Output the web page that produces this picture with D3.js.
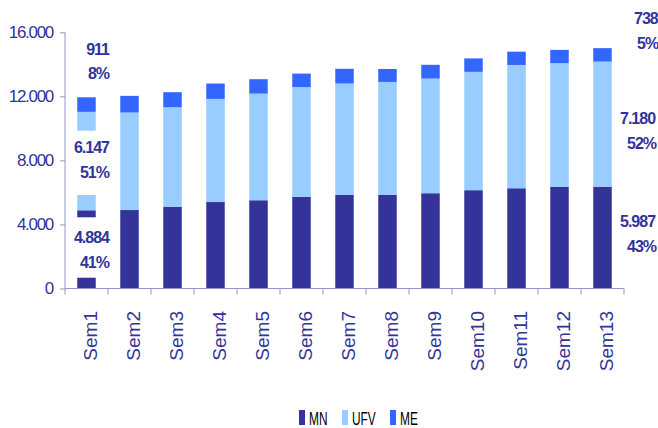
<!DOCTYPE html>
<html><head><meta charset="utf-8">
<script src="https://cdn.jsdelivr.net/npm/d3@7/dist/d3.min.js"></script>
<style>
html,body{margin:0;padding:0;background:#fff;}
svg{display:block;}
text{font-family:"Liberation Sans",Arial,sans-serif;}
</style></head>
<body>
<svg id="chart" width="658" height="428"></svg>
<script>
const categories = ["Sem1","Sem2","Sem3","Sem4","Sem5","Sem6","Sem7","Sem8","Sem9","Sem10","Sem11","Sem12","Sem13"];
const seriesNames = ["MN","UFV","ME"];
const mn  = [4884, 4900, 5110, 5400, 5510, 5720, 5840, 5840, 5950, 6140, 6260, 6360, 6360];
const ufv = [6147, 6090, 6210, 6440, 6660, 6860, 6960, 7060, 7160, 7390, 7700, 7710, 7810];
const me  = [911, 1040, 940, 960, 900, 840, 920, 810, 860, 840, 830, 830, 840];
const yTicks = [0, 4000, 8000, 12000, 16000];
const yTickLabels = ["0", "4.000", "8.000", "12.000", "16.000"];
const leftLabels = ["911", "8%", "6.147", "51%", "4.884", "41%"];
const rightLabels = ["738", "5%", "7.180", "52%", "5.987", "43%"];

const colors = {MN:"#333399", UFV:"#99ccff", ME:"#3366ff"};
const navy = "#333399";
const axisColor = "#9494c8";

const svg = d3.select("#chart");
const X0 = 65, X1 = 624, Y0 = 288.5, Y1 = 32.3;

const x = d3.scaleBand().domain(categories).range([X0, X1]).paddingInner(0.57).paddingOuter(0.285);
const y = d3.scaleLinear().domain([0, 16000]).range([Y0, Y1]);

const rows = categories.map((c, i) => ({cat: c, MN: mn[i], UFV: ufv[i], ME: me[i]}));
const stack = d3.stack().keys(seriesNames)(rows);

// bars
svg.append("g").selectAll("g").data(stack).join("g")
  .attr("fill", d => colors[d.key])
  .selectAll("rect").data(d => d).join("rect")
  .attr("x", d => x(d.data.cat))
  .attr("width", x.bandwidth())
  .attr("y", d => y(d[1]))
  .attr("height", d => y(d[0]) - y(d[1]));

// y axis
const yAxis = svg.append("g").attr("transform", `translate(${X0},0)`)
  .call(d3.axisLeft(y).tickValues(yTicks).tickSize(5).tickPadding(7)
    .tickFormat((d, i) => yTickLabels[i]));
yAxis.select(".domain").attr("stroke", axisColor).attr("d", `M0,${Y1}V${Y0}`);
yAxis.selectAll(".tick line").attr("stroke", axisColor);
yAxis.selectAll(".tick text").attr("fill", navy).attr("font-size", 17)
  .attr("letter-spacing", "-1.3px").attr("font-family", "Liberation Sans, Arial, sans-serif");

// x axis
const step = x.step();
const xg = svg.append("g");
xg.append("line").attr("x1", X0).attr("x2", X1).attr("y1", Y0).attr("y2", Y0).attr("stroke", axisColor);
xg.selectAll("line.tk").data(d3.range(categories.length + 1)).join("line")
  .attr("class", "tk")
  .attr("x1", i => X0 + i * step).attr("x2", i => X0 + i * step)
  .attr("y1", Y0).attr("y2", Y0 + 6).attr("stroke", axisColor);
xg.selectAll("text").data(categories).join("text")
  .attr("transform", d => `translate(${x(d) + x.bandwidth() / 2},311) rotate(-90)`)
  .attr("text-anchor", "end")
  .attr("dy", "0.57em")
  .attr("fill", navy).attr("font-size", 19)
  .text(d => d);

// data labels (left, with white background covering first bar)
const leftY = [55, 79, 153, 178, 243, 268];
const lg = svg.append("g");
const boxes = [[130.7, 195], [217.3, 277.7]];
boxes.forEach(b => {
  lg.append("rect").attr("x", 70).attr("width", 42)
    .attr("y", b[0]).attr("height", b[1] - b[0]).attr("fill", "#fff");
});
lg.selectAll("text").data(leftLabels).join("text")
  .attr("x", 109).attr("y", (d, i) => leftY[i])
  .attr("text-anchor", "end")
  .attr("fill", navy).attr("font-size", 16).attr("font-weight", "bold")
  .attr("letter-spacing", "-1px")
  .text(d => d);

const rightX = [634, 637, 620, 627, 620, 627];
const rightY = [24, 48.5, 124, 148.5, 226.5, 251.5];
svg.append("g").selectAll("text").data(rightLabels).join("text")
  .attr("x", (d, i) => rightX[i]).attr("y", (d, i) => rightY[i])
  .attr("fill", navy).attr("font-size", 16).attr("font-weight", "bold")
  .attr("letter-spacing", "-1px")
  .text(d => d);

// legend
const legendX = [299, 342, 390];
const leg = svg.append("g");
seriesNames.forEach((s, i) => {
  leg.append("rect").attr("x", legendX[i]).attr("y", 410).attr("width", 6).attr("height", 15)
    .attr("fill", colors[s]);
  leg.append("text")
    .attr("transform", `translate(${legendX[i] + 10},424.5) scale(0.66,1)`)
    .attr("font-size", 18).attr("fill", "#000")
    .text(s);
});
</script>
</body></html>
